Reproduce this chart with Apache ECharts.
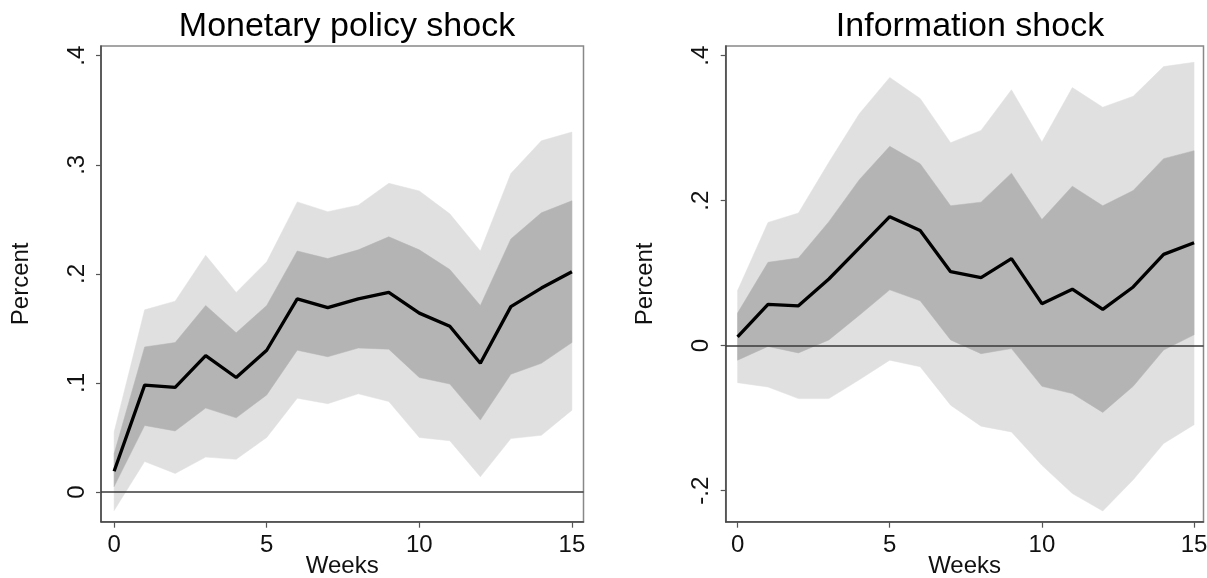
<!DOCTYPE html>
<html>
<head>
<meta charset="utf-8">
<script src="https://cdn.jsdelivr.net/npm/echarts@6/dist/echarts.min.js"></script>
<style>
html,body{margin:0;padding:0;background:#fff;}
#c{width:1207px;height:578px;}
</style>
</head>
<body>
<div id="c"></div>
<script>
// ---------- data ----------
const weeks = [0,1,2,3,4,5,6,7,8,9,10,11,12,13,14,15];

// Monetary policy shock
const mpPoint = [0.019,0.098,0.096,0.125,0.105,0.130,0.177,0.169,0.177,0.183,0.164,0.152,0.118,0.170,0.187,0.202];
const mpLo68  = [0.005,0.061,0.056,0.077,0.068,0.089,0.130,0.124,0.132,0.131,0.105,0.099,0.066,0.108,0.118,0.137];
const mpHi68  = [0.035,0.133,0.137,0.171,0.146,0.171,0.221,0.214,0.222,0.234,0.222,0.204,0.171,0.232,0.256,0.267];
const mpLo90  = [-0.017,0.028,0.017,0.032,0.030,0.050,0.086,0.081,0.090,0.083,0.050,0.047,0.014,0.049,0.052,0.075];
const mpHi90  = [0.055,0.167,0.175,0.217,0.183,0.211,0.266,0.257,0.263,0.283,0.276,0.255,0.221,0.292,0.322,0.330];

// Information shock
const infoPoint = [0.012,0.057,0.055,0.092,0.135,0.178,0.159,0.102,0.094,0.120,0.058,0.078,0.050,0.081,0.126,0.142];
const infoLo68  = [-0.020,-0.001,-0.010,0.008,0.042,0.077,0.062,0.008,-0.011,-0.004,-0.056,-0.066,-0.092,-0.056,-0.006,0.015];
const infoHi68  = [0.045,0.115,0.121,0.171,0.229,0.275,0.251,0.193,0.198,0.238,0.174,0.220,0.193,0.214,0.258,0.269];
const infoLo90  = [-0.051,-0.057,-0.073,-0.073,-0.047,-0.020,-0.029,-0.082,-0.111,-0.119,-0.165,-0.204,-0.228,-0.185,-0.135,-0.109];
const infoHi90  = [0.076,0.170,0.183,0.253,0.320,0.370,0.341,0.280,0.297,0.353,0.281,0.356,0.329,0.344,0.385,0.391];

const titles = ['Monetary policy shock', 'Information shock'];
const xTicks = [0,5,10,15];
const yTicksLeft = [0,0.1,0.2,0.3,0.4];
const yTicksRight = [-0.2,0,0.2,0.4];

// ---------- styling ----------
const FONT = 'Liberation Sans, Arial, sans-serif';
const LIGHT = '#e0e0e0';
const DARK = '#b4b4b4';

function fmt(v){
  if (Math.abs(v) < 1e-9) return '0';
  const s = String(Math.round(Math.abs(v)*10)/10).replace(/^0/, '');
  return (v < 0 ? '-' : '') + s;
}
function pairs(arr){ return weeks.map((w,i)=>[w, arr[i]]); }

const grids = [
  {left:101, right:623.5, top:46, bottom:56.3},
  {left:725.7, right:3.5, top:46, bottom:56.3}
];
const xRanges = [[-0.43, 15.38], [-0.39, 15.31]];
const yRanges = [[-0.0272, 0.4089], [-0.2428, 0.4134]];
const yTicks = [yTicksLeft, yTicksRight];

function xAxis(i){
  return {
    type:'value', gridIndex:i, min:xRanges[i][0], max:xRanges[i][1],
    name:'Weeks', nameLocation:'middle', nameGap:33, nameMoveOverlap:false,
    nameTextStyle:{fontFamily:FONT, fontSize:24, color:'#111'},
    axisLine:{show:true, onZero:false, lineStyle:{color:'#444', width:1.5}},
    axisTick:{show:true, customValues:xTicks, length:6, lineStyle:{color:'#555', width:1.2}},
    axisLabel:{customValues:xTicks, fontFamily:FONT, fontSize:24, color:'#111', margin:12, formatter:v=>String(v)},
    splitLine:{show:false}
  };
}
function yAxis(i){
  return {
    type:'value', gridIndex:i, min:yRanges[i][0], max:yRanges[i][1],
    name:'Percent', nameLocation:'middle', nameGap:68, nameMoveOverlap:false,
    nameTextStyle:{fontFamily:FONT, fontSize:24, color:'#111'},
    axisLine:{show:true, onZero:false, lineStyle:{color:'#444', width:1.5}},
    axisTick:{show:true, customValues:yTicks[i], length:5, lineStyle:{color:'#555', width:1.2}},
    axisLabel:{customValues:yTicks[i], rotate:90, fontFamily:FONT, fontSize:24, color:'#111', margin:12, formatter:fmt},
    splitLine:{show:false}
  };
}

function bandSeries(i, lo, hi, color, z){
  return {
    type:'custom', xAxisIndex:i, yAxisIndex:i, silent:true, z:z, clip:true,
    data: weeks.map((w,k)=>[w, lo[k], hi[k]]),
    encode:{x:0, y:[1,2]},
    renderItem: function(params, api){
      if (params.dataIndex !== 0) return null;
      const top = [], bot = [];
      for (let k = 0; k < weeks.length; k++){
        top.push(api.coord([weeks[k], hi[k]]));
        bot.push(api.coord([weeks[k], lo[k]]));
      }
      const pts = top.concat(bot.reverse());
      return {type:'polygon', shape:{points:pts}, style:{fill:color, stroke:color, lineWidth:0.5}};
    }
  };
}
function pointSeries(i, pt){
  return {
    type:'line', xAxisIndex:i, yAxisIndex:i, data:pairs(pt), symbol:'none', z:6,
    lineStyle:{color:'#000', width:3.3},
    markLine:{silent:true, symbol:['none','none'], label:{show:false},
      lineStyle:{color:'#3a3a3a', width:1.5, type:'solid'}, data:[{yAxis:0}], z:5}
  };
}

const option = {
  animation:false,
  backgroundColor:'#fff',
  title:[
    {text:titles[0], left:342, top:5, textAlign:'center',
     textStyle:{fontFamily:FONT, fontSize:34, fontWeight:'normal', color:'#000'}},
    {text:titles[1], left:965, top:5, textAlign:'center',
     textStyle:{fontFamily:FONT, fontSize:34, fontWeight:'normal', color:'#000'}}
  ],
  grid: grids.map(g=>Object.assign({show:true, borderColor:'#888', borderWidth:1.5, backgroundColor:'#fff',
    containLabel:false, outerBoundsMode:'none'}, g)),
  xAxis:[xAxis(0), xAxis(1)],
  yAxis:[yAxis(0), yAxis(1)],
  series:[
    bandSeries(0, mpLo90, mpHi90, LIGHT, 2),
    bandSeries(0, mpLo68, mpHi68, DARK, 3),
    pointSeries(0, mpPoint),
    bandSeries(1, infoLo90, infoHi90, LIGHT, 2),
    bandSeries(1, infoLo68, infoHi68, DARK, 3),
    pointSeries(1, infoPoint)
  ]
};

const chart = echarts.init(document.getElementById('c'), null, {renderer:'canvas'});
chart.setOption(option);
</script>
</body>
</html>
